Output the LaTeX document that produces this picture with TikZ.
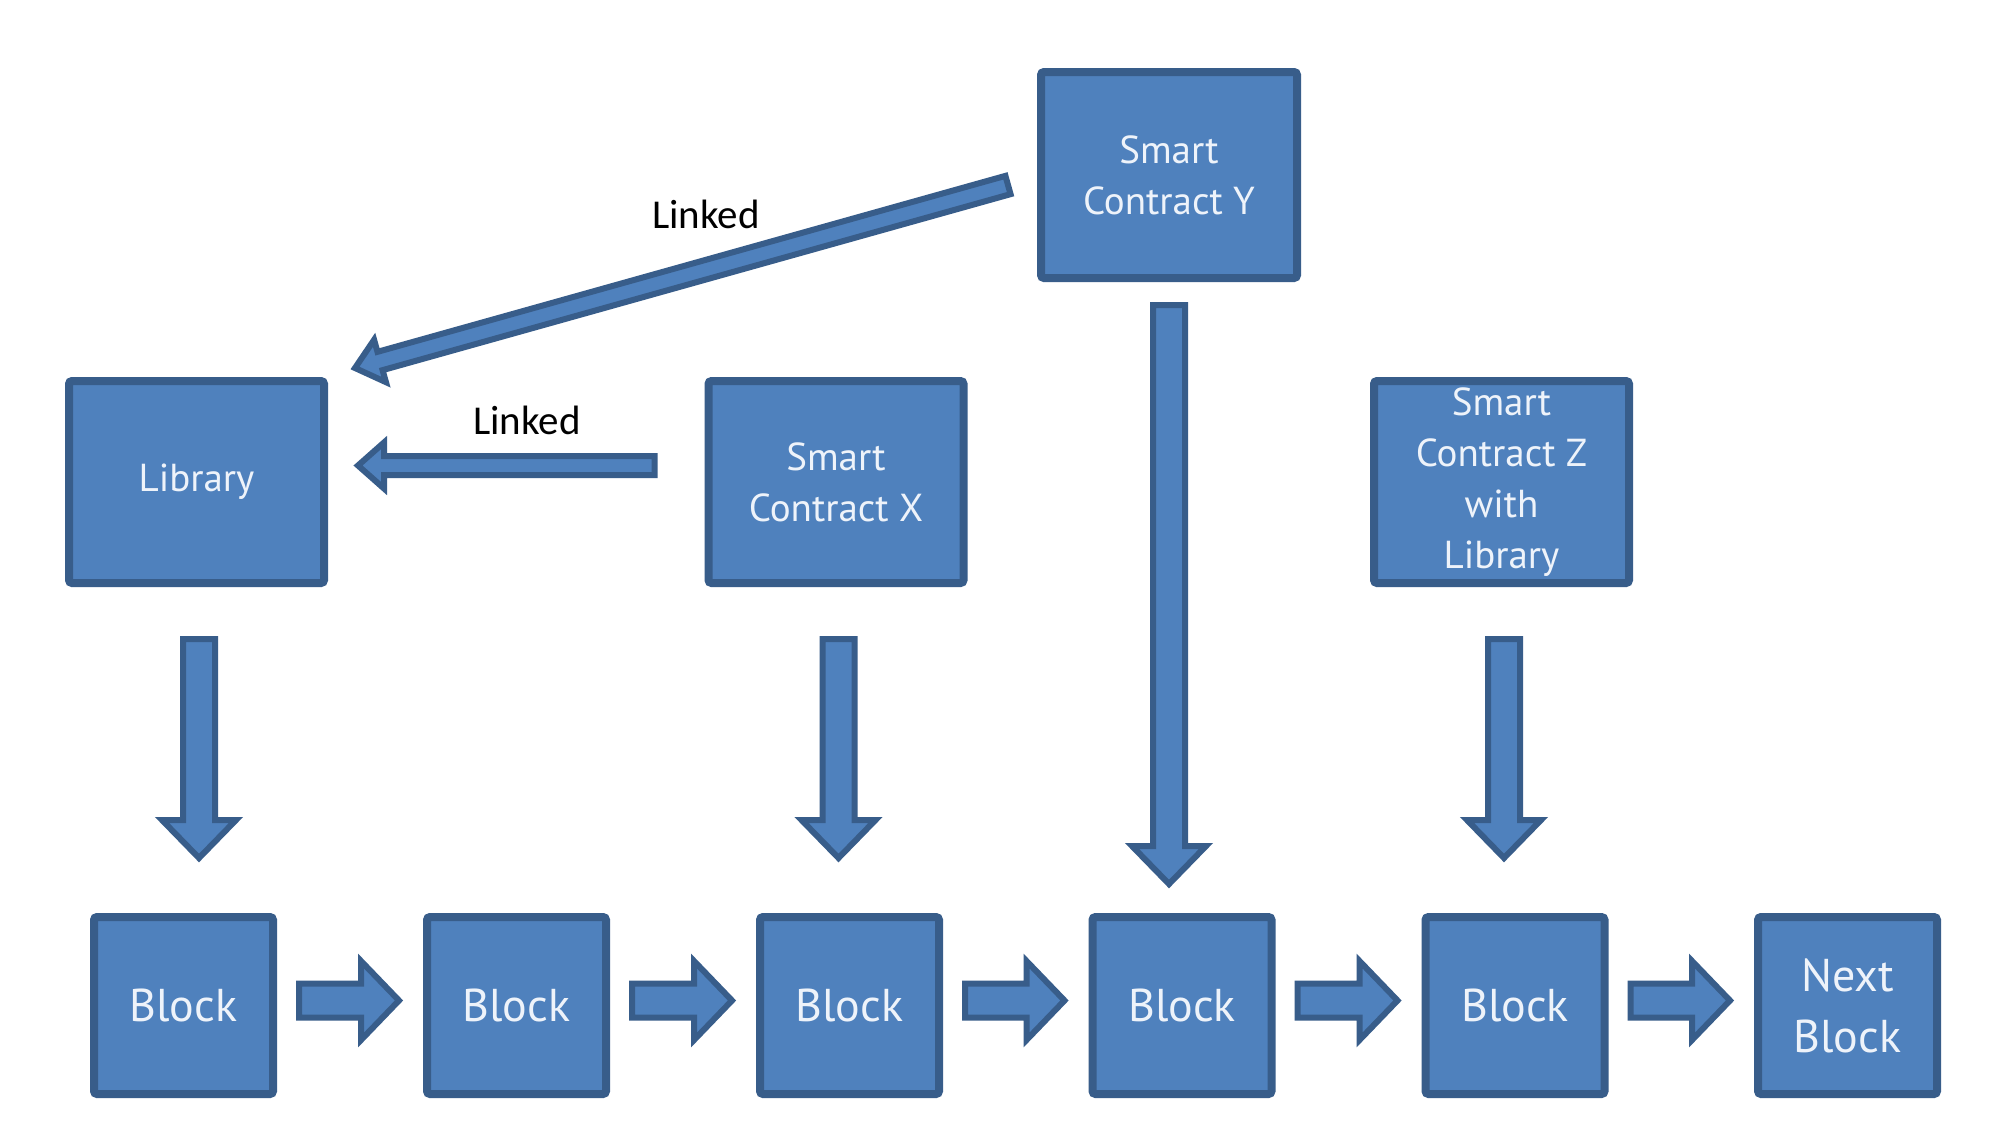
\documentclass[tikz,border=0pt]{standalone}
\usepackage{fontspec}
\setmainfont{PT Sans}
\newfontfamily\labelfont{Carlito}
\usetikzlibrary{calc}
\definecolor{boxfill}{HTML}{4F81BD}
\definecolor{boxline}{HTML}{385D8A}
\definecolor{boxtext}{HTML}{EEF3FA}
\newcommand{\fatarrow}[6][]{%
  \path ($(#3)!#6!(#2)$) coordinate (fah);
  \draw[fatstyle,#1] ($(#2)!#4!90:(#3)$) -- ($(fah)!#4!90:(#3)$) -- ($(fah)!#5!90:(#3)$) -- (#3)
    -- ($(fah)!#5!-90:(#3)$) -- ($(fah)!#4!-90:(#3)$) -- ($(#2)!#4!-90:(#3)$) -- cycle;
}
\tikzset{
  box/.style={draw=boxline, fill=boxfill, line width=4pt, rounded corners=1.5pt,
    inner sep=0pt, align=center, text=boxtext},
  contract/.style={box, minimum width=127.5pt, minimum height=101pt,
    font=\fontsize{19.5}{25.5}\selectfont},
  chain/.style={box, minimum width=89.5pt, minimum height=88.5pt,
    font=\fontsize{23}{30.5}\selectfont},
  fatstyle/.style={draw=boxline, fill=boxfill, line width=3pt, line join=miter},
  linklabel/.style={font=\labelfont\fontsize{20.5}{24}\selectfont, text=black, inner sep=0pt}
}
\begin{document}
\begin{tikzpicture}[x=0.5pt, y=-0.5pt]
\useasboundingbox (0,0) rectangle (1992,1126);
\fill[white] (0,0) rectangle (1992,1126);

% upper nodes
\node[contract, minimum width=128pt, minimum height=103pt] (scy) at (1169,175) {Smart\\Contract Y};
\node[contract] (lib) at (196.5,482) {Library};
\node[contract] (scx) at (836,482) {Smart\\Contract X};
\node[contract] (scz) at (1501.5,482) {Smart\\Contract Z\\with\\Library};

% chain
\node[chain] (b1) at (183.5,1005.5) {Block};
\node[chain] (b2) at (516.5,1005.5) {Block};
\node[chain] (b3) at (849.5,1005.5) {Block};
\node[chain] (b4) at (1182,1005.5) {Block};
\node[chain] (b5) at (1515,1005.5) {Block};
\node[chain] (b6) at (1847.5,1005.5) {Next\\Block};

% labels
\node[linklabel] (l1) at (706,214) {Linked};
\node[linklabel] (l2) at (527,420) {Linked};

% chain arrows
\foreach \a/\b in {b1/b2,b2/b3,b3/b4,b4/b5,b5/b6}{
  \coordinate (s-\a) at ($(\a.east)+(22,-5)$);
  \coordinate (e-\a) at ($(\b.west)+(-24,-5)$);
  \fatarrow{s-\a}{e-\a}{8.5pt}{19.75pt}{19pt}
}

% down arrows
\coordinate (dls) at ($(lib.south)+(2.5,52)$);
\coordinate (dle) at ($(dls |- b1.north)+(0,-55)$);
\fatarrow{dls}{dle}{8pt}{18.5pt}{19pt}

\coordinate (dxs) at ($(scx.south)+(2.5,52)$);
\coordinate (dxe) at ($(dxs |- b3.north)+(0,-55)$);
\fatarrow{dxs}{dxe}{8pt}{18.5pt}{19pt}

\coordinate (dys) at ($(scy.south)+(0,23)$);
\coordinate (dye) at ($(dys |- b4.north)+(0,-29)$);
\fatarrow{dys}{dye}{8pt}{18.5pt}{19pt}

\coordinate (dzs) at ($(scz.south)+(2.5,52)$);
\coordinate (dze) at ($(dzs |- b5.north)+(0,-55)$);
\fatarrow{dzs}{dze}{8pt}{18.5pt}{19pt}

% linked arrows
\coordinate (hxs) at ($(scx.west)+(-50,-16.5)$);
\coordinate (hxe) at ($(lib.east |- hxs)+(30,0)$);
\fatarrow{hxs}{hxe}{4.75pt}{11.5pt}{13pt}

\coordinate (dgs) at ($(scy.west)+(-29,10)$);
\coordinate (dge) at ($(lib.north east)+(27,-9)$);
\fatarrow{dgs}{dge}{4.75pt}{11pt}{13pt}
\end{tikzpicture}
\end{document}
